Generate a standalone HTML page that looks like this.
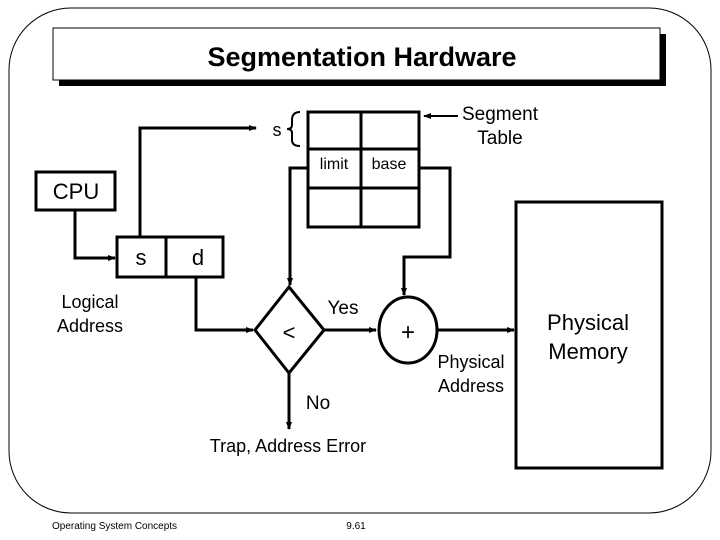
<!DOCTYPE html>
<html><head><style>
html,body{margin:0;padding:0;background:#fff;}
svg{display:block;}
text{font-family:"Liberation Sans",sans-serif;fill:#000;}
</style></head><body>
<svg width="720" height="540" viewBox="0 0 720 540" xmlns="http://www.w3.org/2000/svg">
<defs>
<marker id="a" markerWidth="8" markerHeight="8" refX="7" refY="4" orient="auto" markerUnits="userSpaceOnUse">
<path d="M0,1 L8,4 L0,7 Z" fill="#000"/></marker>
</defs>
<rect x="9" y="8" width="702" height="505" rx="62" ry="62" fill="none" stroke="#000" stroke-width="1"/>
<rect x="59" y="34" width="607" height="52" fill="#000"/>
<rect x="53" y="28" width="607" height="52" fill="#fff" stroke="#000" stroke-width="1"/>
<text x="362" y="66" font-size="27" font-weight="bold" text-anchor="middle">Segmentation Hardware</text>
<g fill="none" stroke="#000" stroke-width="3">
<rect x="308" y="112" width="111" height="115"/>
<line x1="361" y1="112" x2="361" y2="227"/>
<line x1="308" y1="149" x2="419" y2="149"/>
<line x1="308" y1="188" x2="419" y2="188"/>
<rect x="36" y="172" width="79" height="38"/>
<rect x="117" y="237" width="106" height="40"/>
<line x1="166" y1="237" x2="166" y2="277"/>
<rect x="516" y="202" width="146" height="266"/>
<polyline points="140,237 140,128 256,128" marker-end="url(#a)"/>
<polyline points="75,210 75,258 115,258" marker-end="url(#a)"/>
<polyline points="308,168 290,168 290,285" marker-end="url(#a)"/>
<polyline points="419,168 450,168 450,257 404,257 404,295" marker-end="url(#a)"/>
<polyline points="196,277 196,330 253,330" marker-end="url(#a)"/>
<polygon points="289,287 324,330 289,373 255,330"/>
<line x1="324" y1="330" x2="376" y2="330" marker-end="url(#a)"/>
<ellipse cx="408" cy="330" rx="29" ry="33"/>
<line x1="437" y1="330" x2="514" y2="330" marker-end="url(#a)"/>
<line x1="289" y1="373" x2="289" y2="429" marker-end="url(#a)"/>
<line x1="458" y1="116" x2="424" y2="116" stroke-width="2" marker-end="url(#a)"/>
</g>
<path d="M300,112 Q292,112 292,120 L292,125 Q292,129 287,129 Q292,129 292,133 L292,140 Q292,146 300,146" fill="none" stroke="#000" stroke-width="2"/>
<text x="277" y="136" font-size="18" text-anchor="middle">s</text>
<text x="500" y="120" font-size="19" text-anchor="middle">Segment</text>
<text x="500" y="144" font-size="19" text-anchor="middle">Table</text>
<text x="334" y="169" font-size="16" text-anchor="middle">limit</text>
<text x="389" y="169" font-size="16" text-anchor="middle">base</text>
<text x="76" y="199" font-size="22" text-anchor="middle">CPU</text>
<text x="141" y="265" font-size="22" text-anchor="middle">s</text>
<text x="198" y="265" font-size="22" text-anchor="middle">d</text>
<text x="90" y="308" font-size="18" text-anchor="middle">Logical</text>
<text x="90" y="332" font-size="18" text-anchor="middle">Address</text>
<text x="289" y="340" font-size="22" text-anchor="middle">&lt;</text>
<text x="343" y="314" font-size="19" text-anchor="middle">Yes</text>
<text x="408" y="340" font-size="24" text-anchor="middle">+</text>
<text x="471" y="368" font-size="18" text-anchor="middle">Physical</text>
<text x="471" y="392" font-size="18" text-anchor="middle">Address</text>
<text x="588" y="330" font-size="22" text-anchor="middle">Physical</text>
<text x="588" y="359" font-size="22" text-anchor="middle">Memory</text>
<text x="318" y="409" font-size="19" text-anchor="middle">No</text>
<text x="288" y="452" font-size="18" text-anchor="middle">Trap, Address Error</text>
<text x="52" y="529" font-size="10">Operating System Concepts</text>
<text x="356" y="529" font-size="10" text-anchor="middle">9.61</text>
</svg>
</body></html>
